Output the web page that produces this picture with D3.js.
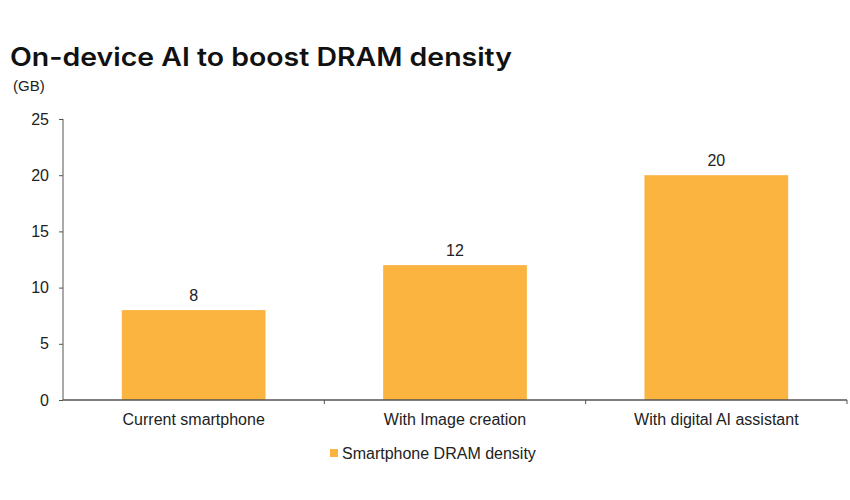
<!DOCTYPE html>
<html><head><meta charset="utf-8">
<script src="https://cdn.jsdelivr.net/npm/d3@7"></script>
<style>body{margin:0;background:#fff}svg{display:block}</style>
</head><body>
<svg id="c" width="850" height="500"></svg>
<script>
const categories = ["Current smartphone", "With Image creation", "With digital AI assistant"];
const values = [8, 12, 20];
const yTicks = [0, 5, 10, 15, 20, 25];
const seriesName = "Smartphone DRAM density";
const titleText = "On-device AI to boost DRAM density";
const unitText = "(GB)";

const svg = d3.select("#c");
const barColor = "#FBB440";
const axisColor = "#555";
const font = "'Liberation Sans', Arial, sans-serif";

const x = d3.scaleBand().domain(categories).range([63, 847]).paddingInner(0.45).paddingOuter(0.225);
const y = d3.scaleLinear().domain([0, 25]).range([400, 119]);

svg.append("text").attr("x", 10).attr("y", 66)
  .attr("font-family", "Inter, 'Open Sans', sans-serif").attr("font-weight", 600)
  .attr("font-size", 25).attr("fill", "#111")
  .attr("textLength", 502).attr("lengthAdjust", "spacingAndGlyphs")
  .text(titleText);

svg.append("text").attr("x", 13).attr("y", 91)
  .attr("font-family", font).attr("font-size", 15).attr("fill", "#222").text(unitText);

// bars
svg.selectAll("rect.bar").data(values).join("rect").attr("class", "bar")
  .attr("x", (d, i) => x(categories[i])).attr("width", x.bandwidth())
  .attr("y", d => y(d)).attr("height", d => y(0) - y(d)).attr("fill", barColor);

// value labels
svg.selectAll("text.val").data(values).join("text").attr("class", "val")
  .attr("x", (d, i) => x(categories[i]) + x.bandwidth() / 2).attr("y", d => y(d) - 9)
  .attr("text-anchor", "middle").attr("font-family", font).attr("font-size", 16).attr("fill", "#222")
  .text(d => d);

// y axis
const yAxis = d3.axisLeft(y).tickValues(yTicks).tickSize(4).tickPadding(10);
const gy = svg.append("g").attr("transform", "translate(63,0)").call(yAxis);
gy.select(".domain").attr("stroke", axisColor).attr("d", `M-0.5,${y(25)}H0V${y(0)}`);
gy.selectAll(".tick line").attr("stroke", axisColor);
gy.selectAll(".tick text").attr("font-family", font).attr("font-size", 16).attr("fill", "#222");

// x axis
const gx = svg.append("g").attr("transform", `translate(0,${y(0)})`);
gx.append("line").attr("x1", 63).attr("x2", 847).attr("stroke", axisColor).attr("stroke-width", 1.5);
const bounds = categories.map(c => x(c) + x.bandwidth() + x.step() * x.paddingInner() / 2);
bounds[bounds.length - 1] = x.range()[1];
gx.selectAll("line.tk").data(bounds).join("line").attr("class", "tk")
  .attr("x1", d => d).attr("x2", d => d).attr("y1", 0).attr("y2", 4).attr("stroke", axisColor);
gx.selectAll("text.cat").data(categories).join("text").attr("class", "cat")
  .attr("x", d => x(d) + x.bandwidth() / 2).attr("y", 25)
  .attr("text-anchor", "middle").attr("font-family", font).attr("font-size", 16).attr("fill", "#222")
  .text(d => d);

// legend
const lg = svg.append("g").attr("transform", "translate(330,449)");
lg.append("rect").attr("x", 0).attr("y", 0).attr("width", 8).attr("height", 8).attr("fill", barColor);
lg.append("text").attr("x", 12).attr("y", 10).attr("font-family", font).attr("font-size", 16)
  .attr("fill", "#222").text(seriesName);
</script>
</body></html>
